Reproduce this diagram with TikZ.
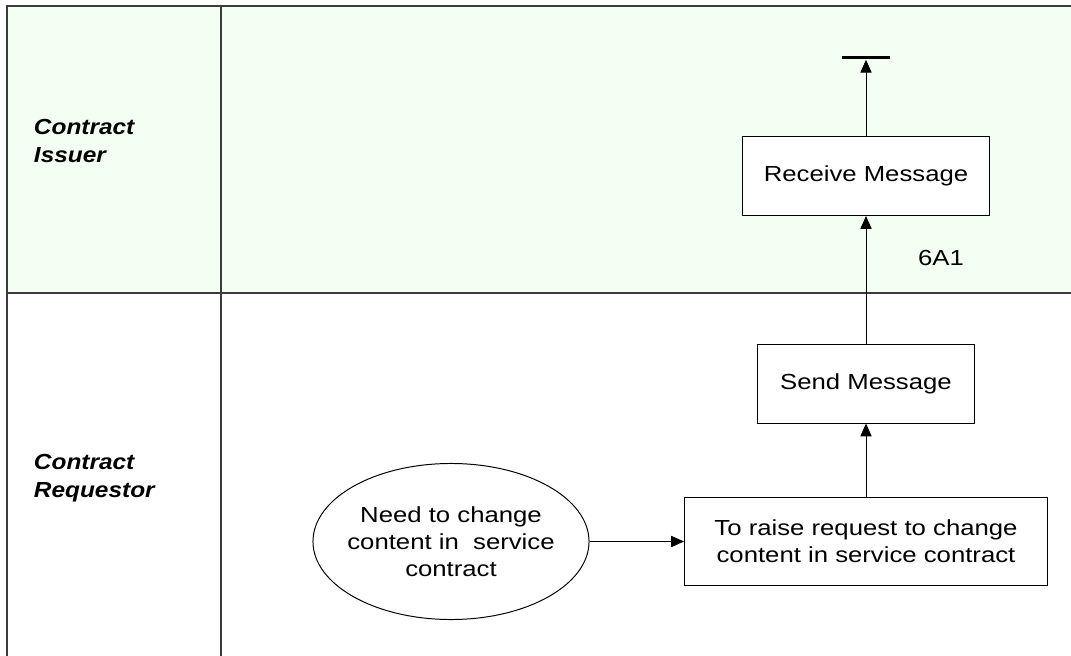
\documentclass[tikz,border=0pt]{standalone}
\usepackage{fontspec}
\setmainfont{Liberation Sans}[FakeStretch=1.18]
\newfontfamily\lanefont{Liberation Sans}[FakeStretch=1.12]
\usepackage{xcolor}
\usepackage{tikz}
\usetikzlibrary{positioning, shapes.geometric, arrows.meta}
\definecolor{lanegreen}{RGB}{243,255,243}
\definecolor{laneline}{RGB}{60,60,60}
\tikzset{
  act/.style={rectangle, draw=black, fill=white, line width=0.7pt, align=center,
              font=\fontsize{15.5}{19}\selectfont, inner sep=0pt},
  evt/.style={ellipse, draw=black, fill=white, line width=0.7pt, inner sep=0pt,
              minimum width=6.9cm, minimum height=3.9cm},
  lanelbl/.style={font=\lanefont\fontsize{15.5}{19.5}\selectfont\bfseries\itshape, align=left, anchor=west},
  endbar/.style={rectangle, fill=black, inner sep=0pt, minimum width=1.22cm, minimum height=0.075cm},
  flow/.style={-{Triangle[length=3.2mm, width=2.8mm]}, line width=0.7pt},
  lane/.style={draw=laneline, line width=1pt},
  lbl/.style={font=\fontsize{15.5}{19}\selectfont, align=center}
}

\begin{document}
\begin{tikzpicture}[x=0.025cm, y=-0.025cm]
  \useasboundingbox (0,0) rectangle (1071,656);
  % Swimlanes
  \fill[lanegreen] (7,6) rectangle (1071,293);
  \draw[lane] (1071,6) -- (7,6) -- (7,656);
  \draw[lane] (7,293) -- (1071,293);
  \draw[lane] (221,6) -- (221,656);
  \node[lanelbl] (issuer) at (29,141) {Contract\\Issuer};
  \node[lanelbl] (requestor) at (29,478) {Contract\\Requestor};
  % Contract Issuer lane
  \node[endbar] (end) at (866,58) {};
  \node[act, minimum width=6.15cm, minimum height=1.975cm] (recv) at (866,176) {Receive Message};
  \node[lbl] (msgid) at (941,258) {6A1};
  % Contract Requestor lane
  \node[act, minimum width=5.4cm, minimum height=1.95cm] (send) at (866,384) {Send Message};
  \node[act, minimum width=9.075cm, minimum height=2.2cm] (raise) at (866,541.5) {To raise request to change\\content in service contract};
  \node[evt] (need) at (451,541.5) {};
  \node[lbl] (needtxt) at (need.center) {Need to change\\content in~ service\\contract};
  % Flows
  \draw[flow] (need.east) -- (raise.west);
  \draw[flow] (raise.north) -- (send.south);
  \draw[flow] (send.north) -- (recv.south);
  \draw[flow] (recv.north) -- (end.south);
\end{tikzpicture}
\end{document}
